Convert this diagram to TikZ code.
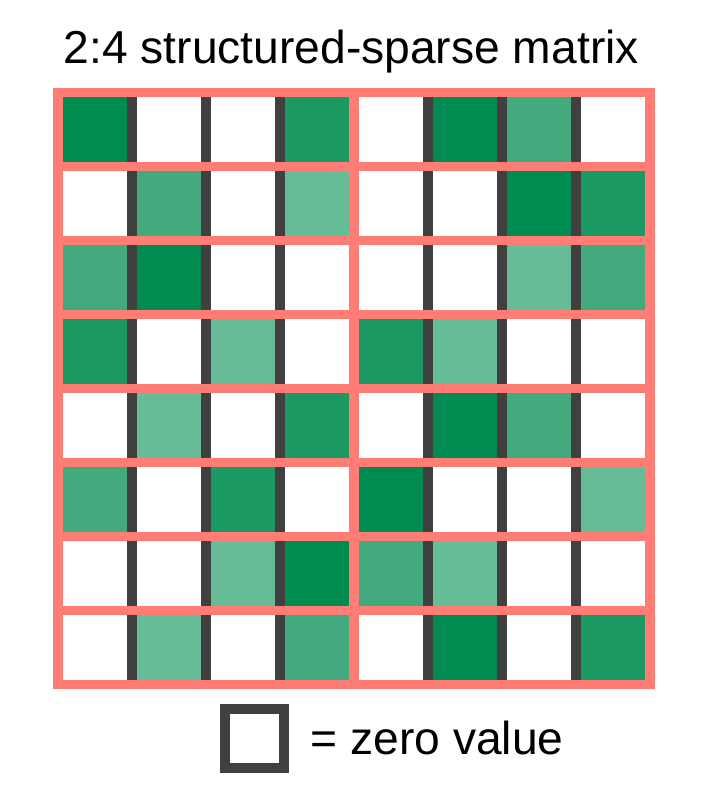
\documentclass[tikz,border=0pt]{standalone}
\usepackage{fontspec}
\setmainfont{Liberation Sans}
\definecolor{gA}{RGB}{0,140,80}
\definecolor{gB}{RGB}{27,153,98}
\definecolor{gC}{RGB}{67,170,125}
\definecolor{gD}{RGB}{102,188,150}
\definecolor{salmon}{RGB}{255,125,116}
\definecolor{darkgray}{RGB}{64,64,64}
\tikzset{
  lbl/.style={inner sep=0pt, anchor=base west, font=\fontsize{46.2}{55}\selectfont},
  sepline/.style={draw=darkgray, line width=9.5pt},
  gridline/.style={draw=salmon, line width=9.5pt, line cap=rect},
  zerobox/.style={draw=darkgray, line width=10pt, fill=white, minimum size=59pt, inner sep=0pt}
}
\begin{document}
\begin{tikzpicture}[x=1pt,y=-1pt]
\useasboundingbox (0,0) rectangle (713,806);
\fill[white] (0,0) rectangle (713,806);
\def\X{58}\def\Y{92.5}\def\S{74}
% cells: row index, then list of (col:colour)
\foreach \r/\cells in {
 0/{0/gA,3/gB,5/gA,6/gC},
 1/{1/gC,3/gD,6/gA,7/gB},
 2/{0/gC,1/gA,6/gD,7/gC},
 3/{0/gB,2/gD,4/gB,5/gD},
 4/{1/gD,3/gB,5/gA,6/gC},
 5/{0/gC,2/gB,4/gA,7/gD},
 6/{2/gD,3/gA,4/gC,5/gD},
 7/{1/gD,3/gC,5/gA,7/gB}}{
  \foreach \c/\col in \cells {
    \fill[\col] ({\X+\c*\S},{\Y+\r*\S}) rectangle ({\X+(\c+1)*\S},{\Y+(\r+1)*\S});
  }
}
% dark separators
\foreach \c in {1,2,3,5,6,7}{
  \draw[sepline] ({\X+\c*\S},\Y) -- ({\X+\c*\S},{\Y+8*\S});
}
% salmon grid
\foreach \r in {0,...,8}{
  \draw[gridline] (\X,{\Y+\r*\S}) -- ({\X+8*\S},{\Y+\r*\S});
}
\foreach \c in {0,4,8}{
  \draw[gridline] ({\X+\c*\S},\Y) -- ({\X+\c*\S},{\Y+8*\S});
}
\node[lbl] (title) at (63.5,63) {2:4 structured-sparse matrix};
\node[zerobox] (zero) at (254.5,738.5) {};
\node[lbl] (legend) at (310.5,754) {= zero value};
\end{tikzpicture}
\end{document}
